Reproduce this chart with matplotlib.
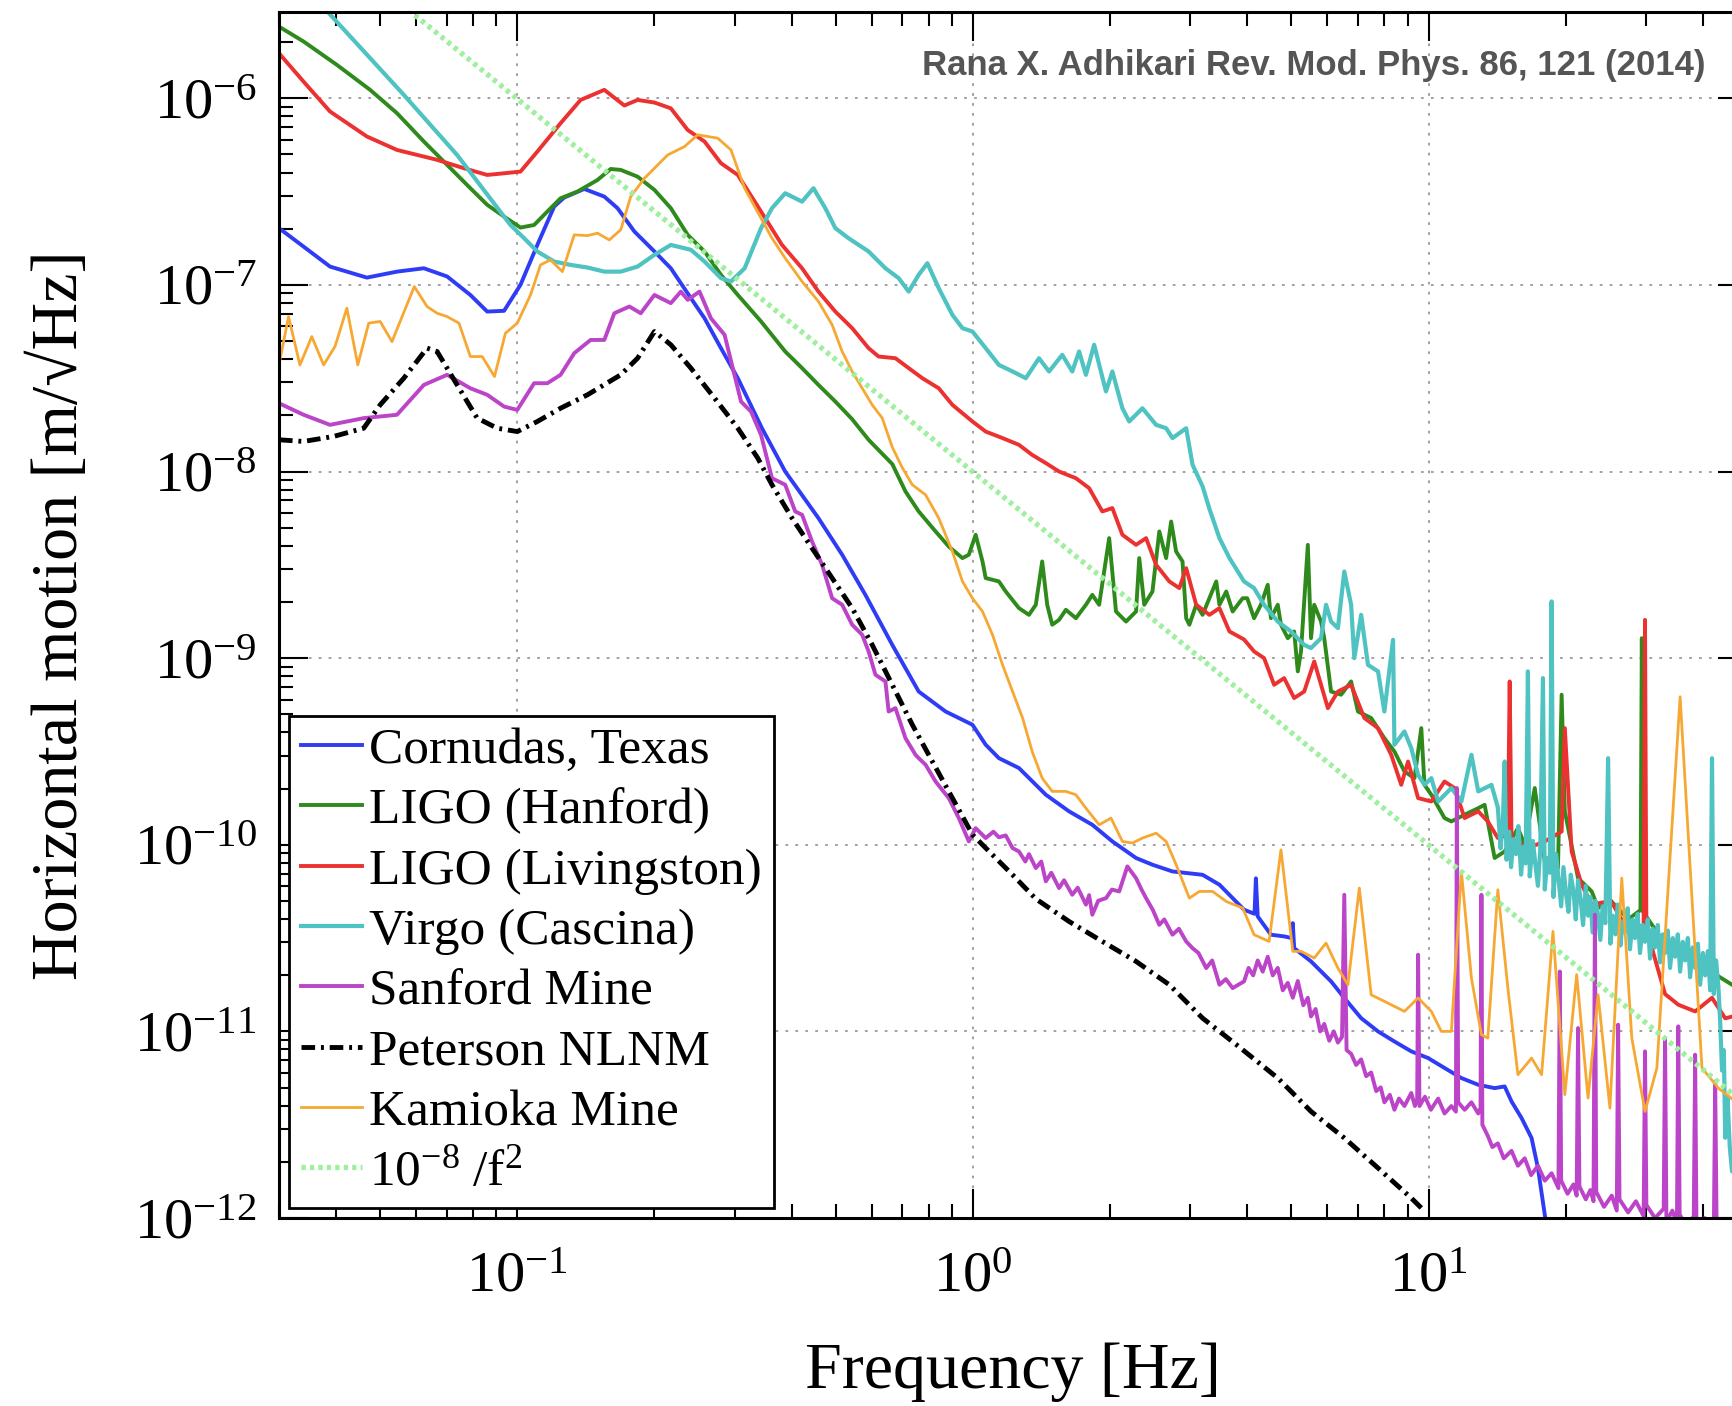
import numpy as np
import matplotlib
matplotlib.use('Agg')
import matplotlib.pyplot as plt
from matplotlib.ticker import LogLocator, NullFormatter

# every series: (log10 frequency [Hz], log10 horizontal motion [m/rtHz])
cornudas = [
    (-1.523, -6.696), (-1.469, -6.795), (-1.411, -6.902), (-1.330, -6.961), (-1.264, -6.929),
    (-1.205, -6.911), (-1.154, -6.955), (-1.103, -7.054), (-1.066, -7.143), (-1.029, -7.139),
    (-0.993, -7.000), (-0.956, -6.786), (-0.919, -6.580), (-0.897, -6.532), (-0.853, -6.486),
    (-0.809, -6.527), (-0.780, -6.589), (-0.743, -6.714), (-0.699, -6.821), (-0.663, -6.911),
    (-0.619, -7.071), (-0.589, -7.179), (-0.553, -7.339), (-0.516, -7.500), (-0.463, -7.768),
    (-0.412, -8.000), (-0.339, -8.250), (-0.287, -8.446), (-0.236, -8.661), (-0.177, -8.929),
    (-0.119, -9.179), (-0.060, -9.286), (-0.001, -9.357), (0.028, -9.464), (0.057, -9.536),
    (0.101, -9.589), (0.160, -9.732), (0.211, -9.821), (0.262, -9.893), (0.306, -9.982),
    (0.358, -10.071), (0.394, -10.107), (0.438, -10.143), (0.504, -10.161), (0.541, -10.214),
    (0.595, -10.348), (0.618, -10.370), (0.621, -10.180), (0.625, -10.384), (0.654, -10.482),
    (0.683, -10.491), (0.700, -10.500), (0.702, -10.420), (0.705, -10.554), (0.742, -10.625),
    (0.786, -10.732), (0.815, -10.821), (0.852, -10.929), (0.889, -11.000), (0.925, -11.054),
    (0.962, -11.107), (0.999, -11.143), (1.035, -11.196), (1.072, -11.250), (1.109, -11.286),
    (1.145, -11.304), (1.167, -11.295), (1.182, -11.375), (1.204, -11.464), (1.226, -11.571),
    (1.240, -11.732), (1.255, -11.982), (1.275, -12.300),
]

hanford = [
    (-1.523, -5.616), (-1.469, -5.696), (-1.396, -5.821), (-1.323, -5.955), (-1.264, -6.080),
    (-1.205, -6.232), (-1.154, -6.357), (-1.103, -6.482), (-1.066, -6.571), (-1.029, -6.634),
    (-0.993, -6.693), (-0.963, -6.679), (-0.934, -6.607), (-0.905, -6.536), (-0.868, -6.500),
    (-0.824, -6.438), (-0.795, -6.379), (-0.773, -6.384), (-0.736, -6.420), (-0.699, -6.491),
    (-0.663, -6.589), (-0.626, -6.732), (-0.589, -6.821), (-0.553, -6.946), (-0.516, -7.054),
    (-0.465, -7.196), (-0.412, -7.357), (-0.375, -7.446), (-0.339, -7.536), (-0.302, -7.625),
    (-0.265, -7.720), (-0.229, -7.830), (-0.177, -7.960), (-0.148, -8.107), (-0.119, -8.214),
    (-0.082, -8.321), (-0.053, -8.402), (-0.023, -8.464), (-0.009, -8.446), (0.006, -8.339),
    (0.021, -8.482), (0.028, -8.571), (0.057, -8.589), (0.072, -8.643), (0.101, -8.732),
    (0.123, -8.768), (0.138, -8.714), (0.152, -8.482), (0.163, -8.714), (0.174, -8.821),
    (0.189, -8.795), (0.204, -8.741), (0.226, -8.786), (0.248, -8.714), (0.262, -8.661),
    (0.277, -8.714), (0.299, -8.357), (0.314, -8.750), (0.336, -8.804), (0.358, -8.750),
    (0.365, -8.464), (0.376, -8.714), (0.394, -8.643), (0.409, -8.321), (0.424, -8.464),
    (0.435, -8.268), (0.446, -8.429), (0.460, -8.482), (0.468, -8.786), (0.475, -8.821),
    (0.490, -8.714), (0.504, -8.768), (0.534, -8.589), (0.541, -8.714), (0.556, -8.643),
    (0.570, -8.750), (0.592, -8.679), (0.602, -8.679), (0.617, -8.786), (0.632, -8.714),
    (0.647, -8.607), (0.654, -8.786), (0.669, -8.714), (0.676, -8.821), (0.691, -8.893),
    (0.705, -8.857), (0.713, -9.071), (0.720, -8.964), (0.735, -8.393), (0.742, -8.893),
    (0.749, -8.714), (0.764, -8.804), (0.771, -8.893), (0.786, -9.179), (0.808, -9.196),
    (0.830, -9.125), (0.845, -9.286), (0.874, -9.321), (0.903, -9.429), (0.925, -9.500),
    (0.947, -9.607), (0.969, -9.643), (0.984, -9.375), (0.991, -9.679), (1.006, -9.732),
    (1.035, -9.857), (1.050, -9.875), (1.079, -9.839), (1.109, -9.804), (1.123, -9.786),
    (1.145, -10.071), (1.167, -10.036), (1.196, -9.911), (1.211, -10.000), (1.233, -9.696),
    (1.255, -10.089), (1.284, -10.125), (1.292, -9.196), (1.299, -9.821), (1.328, -10.179),
    (1.358, -10.250), (1.372, -10.339), (1.400, -10.300), (1.438, -10.400), (1.465, -10.350),
    (1.468, -8.893), (1.471, -10.360), (1.510, -10.500), (1.548, -10.589), (1.600, -10.650),
    (1.666, -10.750), (1.700, -10.800),
]

livingston = [
    (-1.523, -5.759), (-1.469, -5.911), (-1.411, -6.071), (-1.330, -6.205), (-1.264, -6.277),
    (-1.176, -6.330), (-1.117, -6.375), (-1.066, -6.411), (-1.029, -6.402), (-0.993, -6.393),
    (-0.956, -6.286), (-0.905, -6.134), (-0.861, -6.009), (-0.809, -5.955), (-0.765, -6.039),
    (-0.736, -6.009), (-0.699, -6.023), (-0.663, -6.054), (-0.626, -6.170), (-0.589, -6.232),
    (-0.553, -6.348), (-0.516, -6.411), (-0.465, -6.607), (-0.419, -6.786), (-0.375, -6.911),
    (-0.339, -7.036), (-0.302, -7.143), (-0.265, -7.232), (-0.229, -7.339), (-0.207, -7.384),
    (-0.170, -7.393), (-0.141, -7.446), (-0.111, -7.500), (-0.075, -7.554), (-0.045, -7.643),
    (-0.001, -7.732), (0.028, -7.786), (0.065, -7.821), (0.101, -7.857), (0.130, -7.911),
    (0.160, -7.955), (0.189, -8.000), (0.226, -8.036), (0.255, -8.089), (0.284, -8.214),
    (0.306, -8.196), (0.328, -8.339), (0.358, -8.393), (0.380, -8.357), (0.402, -8.500),
    (0.431, -8.589), (0.453, -8.625), (0.468, -8.518), (0.490, -8.714), (0.519, -8.768),
    (0.541, -8.732), (0.563, -8.857), (0.595, -8.900), (0.617, -8.964), (0.639, -9.000),
    (0.661, -9.143), (0.683, -9.107), (0.705, -9.214), (0.727, -9.179), (0.749, -9.018),
    (0.779, -9.268), (0.801, -9.179), (0.830, -9.143), (0.859, -9.321), (0.889, -9.375),
    (0.918, -9.518), (0.940, -9.679), (0.955, -9.554), (0.977, -9.750), (1.006, -9.768),
    (1.035, -9.661), (1.057, -9.696), (1.079, -9.857), (1.109, -9.821), (1.130, -9.875),
    (1.152, -9.964), (1.174, -9.946), (1.178, -9.125), (1.182, -9.964), (1.218, -10.018),
    (1.255, -9.982), (1.292, -9.929), (1.299, -9.375), (1.314, -10.036), (1.336, -10.214),
    (1.358, -10.321), (1.400, -10.300), (1.438, -10.464), (1.472, -10.430), (1.475, -8.795),
    (1.478, -10.450), (1.519, -10.800), (1.548, -10.857), (1.585, -10.893), (1.622, -10.820),
    (1.651, -10.930), (1.700, -10.900),
]

cascina = [
    (-1.523, -5.230), (-1.418, -5.532), (-1.249, -5.982), (-1.132, -6.304), (-1.015, -6.679),
    (-0.985, -6.750), (-0.956, -6.821), (-0.919, -6.875), (-0.883, -6.893), (-0.846, -6.907),
    (-0.809, -6.929), (-0.773, -6.929), (-0.736, -6.902), (-0.699, -6.839), (-0.663, -6.786),
    (-0.619, -6.812), (-0.589, -6.875), (-0.553, -6.964), (-0.531, -6.982), (-0.501, -6.911),
    (-0.465, -6.696), (-0.441, -6.589), (-0.412, -6.509), (-0.375, -6.554), (-0.350, -6.482),
    (-0.324, -6.589), (-0.302, -6.696), (-0.273, -6.750), (-0.229, -6.821), (-0.192, -6.911),
    (-0.163, -6.964), (-0.141, -7.036), (-0.119, -6.946), (-0.100, -6.884), (-0.075, -7.018),
    (-0.045, -7.161), (-0.023, -7.232), (-0.001, -7.250), (0.028, -7.339), (0.057, -7.429),
    (0.087, -7.464), (0.116, -7.500), (0.145, -7.393), (0.167, -7.464), (0.196, -7.375),
    (0.218, -7.464), (0.233, -7.357), (0.248, -7.482), (0.266, -7.321), (0.292, -7.571),
    (0.306, -7.464), (0.328, -7.661), (0.343, -7.732), (0.372, -7.661), (0.402, -7.750),
    (0.424, -7.768), (0.438, -7.821), (0.468, -7.768), (0.482, -7.964), (0.504, -8.080),
    (0.519, -8.200), (0.541, -8.357), (0.563, -8.464), (0.595, -8.589), (0.617, -8.625),
    (0.639, -8.714), (0.669, -8.804), (0.698, -8.857), (0.727, -8.929), (0.742, -8.946),
    (0.764, -8.893), (0.775, -8.714), (0.786, -8.804), (0.801, -8.839), (0.815, -8.536),
    (0.830, -8.714), (0.837, -9.000), (0.852, -8.768), (0.867, -9.036), (0.889, -9.071),
    (0.903, -9.286), (0.922, -8.902), (0.925, -9.464), (0.947, -9.393), (0.962, -9.482),
    (0.977, -9.625), (0.991, -9.679), (1.006, -9.643), (1.021, -9.768), (1.050, -9.696),
    (1.072, -9.768), (1.094, -9.518), (1.109, -9.714), (1.138, -9.679), (1.152, -9.800),
    (1.158, -10.020), (1.163, -9.880), (1.167, -9.554), (1.171, -10.080), (1.177, -9.930),
    (1.181, -10.120), (1.186, -9.970), (1.192, -10.050), (1.197, -9.900), (1.203, -10.160),
    (1.208, -10.010), (1.213, -10.100), (1.218, -9.071), (1.222, -10.170), (1.229, -9.980),
    (1.235, -10.120), (1.240, -10.220), (1.245, -10.030), (1.251, -9.107), (1.255, -10.240),
    (1.261, -10.070), (1.266, -10.150), (1.270, -8.696), (1.274, -10.280), (1.280, -10.050),
    (1.286, -10.200), (1.291, -10.330), (1.296, -10.120), (1.302, -10.270), (1.307, -10.360),
    (1.312, -10.160), (1.318, -10.250), (1.323, -10.400), (1.328, -10.190), (1.334, -10.300),
    (1.339, -10.430), (1.345, -10.220), (1.350, -10.380), (1.355, -10.280), (1.360, -10.470),
    (1.366, -10.300), (1.371, -10.360), (1.377, -10.510), (1.382, -10.330), (1.388, -10.420),
    (1.394, -9.536), (1.399, -10.530), (1.404, -10.380), (1.410, -10.480), (1.415, -10.320),
    (1.421, -10.540), (1.426, -10.410), (1.431, -10.470), (1.437, -10.340), (1.442, -10.560),
    (1.448, -10.400), (1.453, -10.500), (1.459, -10.370), (1.464, -10.580), (1.470, -10.430),
    (1.475, -10.520), (1.481, -10.400), (1.486, -10.610), (1.492, -10.450), (1.497, -10.550),
    (1.503, -10.430), (1.508, -10.630), (1.514, -10.480), (1.519, -10.580), (1.525, -10.460),
    (1.530, -10.660), (1.536, -10.500), (1.541, -10.600), (1.547, -10.480), (1.552, -10.680),
    (1.558, -10.520), (1.563, -10.620), (1.569, -10.500), (1.574, -10.710), (1.580, -10.550),
    (1.585, -10.660), (1.591, -10.530), (1.596, -10.750), (1.602, -10.580), (1.607, -10.700),
    (1.613, -10.570), (1.618, -10.780), (1.622, -9.536), (1.626, -10.800), (1.631, -10.620),
    (1.636, -10.760), (1.640, -10.950), (1.644, -11.210), (1.648, -11.100), (1.651, -11.570),
    (1.656, -11.350), (1.661, -11.620), (1.666, -11.750), (1.700, -11.800),
]

sanford = [
    (-1.523, -7.634), (-1.469, -7.696), (-1.411, -7.750), (-1.337, -7.714), (-1.264, -7.696),
    (-1.205, -7.536), (-1.154, -7.482), (-1.103, -7.554), (-1.066, -7.589), (-1.029, -7.652),
    (-1.000, -7.670), (-0.963, -7.527), (-0.934, -7.527), (-0.905, -7.482), (-0.875, -7.366),
    (-0.839, -7.295), (-0.809, -7.295), (-0.787, -7.152), (-0.754, -7.116), (-0.729, -7.152),
    (-0.699, -7.054), (-0.663, -7.098), (-0.641, -7.036), (-0.626, -7.080), (-0.600, -7.036),
    (-0.575, -7.179), (-0.545, -7.268), (-0.509, -7.625), (-0.487, -7.679), (-0.465, -7.804),
    (-0.441, -8.036), (-0.412, -8.071), (-0.390, -8.214), (-0.375, -8.232), (-0.353, -8.375),
    (-0.331, -8.500), (-0.309, -8.679), (-0.287, -8.714), (-0.265, -8.821), (-0.243, -8.875),
    (-0.229, -8.964), (-0.214, -9.089), (-0.192, -9.125), (-0.185, -9.286), (-0.170, -9.268),
    (-0.148, -9.429), (-0.126, -9.518), (-0.119, -9.536), (-0.104, -9.571), (-0.082, -9.661),
    (-0.053, -9.750), (-0.031, -9.857), (-0.009, -9.982), (0.006, -9.911), (0.028, -9.964),
    (0.045, -9.930), (0.057, -9.960), (0.072, -9.950), (0.087, -10.018), (0.101, -10.036),
    (0.115, -10.090), (0.123, -10.050), (0.138, -10.125), (0.150, -10.090), (0.160, -10.196),
    (0.172, -10.150), (0.189, -10.232), (0.200, -10.190), (0.218, -10.268), (0.230, -10.230),
    (0.248, -10.321), (0.255, -10.270), (0.262, -10.375), (0.275, -10.300), (0.292, -10.286),
    (0.305, -10.240), (0.321, -10.250), (0.339, -10.116), (0.358, -10.179), (0.370, -10.240),
    (0.380, -10.286), (0.395, -10.350), (0.409, -10.429), (0.420, -10.400), (0.438, -10.482),
    (0.452, -10.450), (0.468, -10.518), (0.482, -10.554), (0.495, -10.580), (0.512, -10.661),
    (0.525, -10.620), (0.541, -10.750), (0.555, -10.720), (0.570, -10.768), (0.595, -10.732),
    (0.605, -10.660), (0.615, -10.700), (0.625, -10.620), (0.636, -10.680), (0.647, -10.600),
    (0.658, -10.700), (0.669, -10.660), (0.680, -10.780), (0.691, -10.740), (0.702, -10.820),
    (0.713, -10.730), (0.725, -10.860), (0.735, -10.820), (0.742, -10.920), (0.752, -10.880),
    (0.762, -11.000), (0.771, -10.960), (0.782, -11.050), (0.792, -11.000), (0.801, -11.060),
    (0.810, -11.030), (0.815, -10.268), (0.820, -11.100), (0.830, -11.120), (0.841, -11.180),
    (0.852, -11.150), (0.863, -11.240), (0.874, -11.220), (0.885, -11.320), (0.895, -11.300),
    (0.903, -11.380), (0.915, -11.340), (0.925, -11.420), (0.935, -11.360), (0.947, -11.400),
    (0.962, -11.330), (0.970, -11.400), (0.975, -11.360), (0.977, -10.589), (0.980, -11.400),
    (0.992, -11.350), (1.005, -11.420), (1.021, -11.360), (1.035, -11.440), (1.050, -11.400),
    (1.060, -11.430), (1.062, -9.696), (1.065, -11.380), (1.079, -11.420), (1.094, -11.380),
    (1.109, -11.440), (1.114, -11.410), (1.116, -10.268), (1.118, -11.500), (1.130, -11.560),
    (1.140, -11.620), (1.152, -11.600), (1.165, -11.680), (1.182, -11.640), (1.196, -11.720),
    (1.211, -11.680), (1.225, -11.770), (1.240, -11.720), (1.255, -11.800), (1.270, -11.760),
    (1.285, -11.840), (1.288, -10.679), (1.291, -11.800), (1.305, -11.870), (1.318, -11.820),
    (1.325, -11.880), (1.328, -10.982), (1.331, -11.830), (1.345, -11.900), (1.355, -11.850),
    (1.362, -11.910), (1.365, -10.375), (1.368, -11.860), (1.385, -11.940), (1.402, -11.880),
    (1.413, -11.960), (1.416, -10.964), (1.419, -11.900), (1.438, -11.970), (1.455, -11.910),
    (1.472, -11.990), (1.475, -11.107), (1.478, -11.930), (1.497, -12.000), (1.516, -11.950),
    (1.519, -11.036), (1.522, -12.020), (1.535, -11.960), (1.545, -12.030), (1.548, -10.973),
    (1.551, -11.980), (1.566, -12.050), (1.582, -11.990), (1.585, -11.125), (1.588, -12.060),
    (1.606, -12.000), (1.626, -12.070), (1.629, -11.268), (1.632, -12.010), (1.700, -12.100),
]

peterson = [
    (-1.523, -7.830), (-1.469, -7.839), (-1.403, -7.812), (-1.337, -7.768), (-1.301, -7.643),
    (-1.249, -7.500), (-1.198, -7.339), (-1.176, -7.357), (-1.132, -7.536), (-1.088, -7.714),
    (-1.044, -7.768), (-1.000, -7.786), (-0.956, -7.732), (-0.905, -7.661), (-0.846, -7.589),
    (-0.773, -7.482), (-0.736, -7.393), (-0.699, -7.250), (-0.663, -7.321), (-0.619, -7.446),
    (-0.567, -7.607), (-0.516, -7.768), (-0.472, -7.929), (-0.441, -8.071), (-0.397, -8.250),
    (-0.353, -8.411), (-0.309, -8.571), (-0.265, -8.732), (-0.221, -8.929), (-0.177, -9.143),
    (-0.133, -9.357), (-0.089, -9.554), (-0.045, -9.750), (-0.001, -9.946), (0.043, -10.054),
    (0.087, -10.161), (0.138, -10.290), (0.211, -10.411), (0.284, -10.518), (0.358, -10.625),
    (0.431, -10.750), (0.504, -10.929), (0.578, -11.071), (0.669, -11.250), (0.742, -11.429),
    (0.815, -11.571), (0.889, -11.732), (0.962, -11.893), (0.984, -11.946),
]

kamioka = [
    (-1.523, -7.429), (-1.502, -7.170), (-1.477, -7.429), (-1.451, -7.277), (-1.425, -7.429),
    (-1.400, -7.330), (-1.374, -7.125), (-1.350, -7.429), (-1.326, -7.205), (-1.301, -7.196),
    (-1.275, -7.304), (-1.226, -7.009), (-1.198, -7.116), (-1.176, -7.152), (-1.154, -7.170),
    (-1.128, -7.205), (-1.103, -7.384), (-1.077, -7.384), (-1.050, -7.491), (-1.026, -7.259),
    (-1.000, -7.205), (-0.971, -7.054), (-0.949, -6.893), (-0.927, -6.866), (-0.901, -6.929),
    (-0.875, -6.732), (-0.846, -6.736), (-0.824, -6.723), (-0.798, -6.759), (-0.773, -6.705),
    (-0.751, -6.527), (-0.721, -6.429), (-0.699, -6.375), (-0.670, -6.304), (-0.633, -6.259),
    (-0.604, -6.196), (-0.560, -6.214), (-0.531, -6.277), (-0.501, -6.482), (-0.465, -6.643),
    (-0.441, -6.750), (-0.412, -6.857), (-0.375, -6.982), (-0.339, -7.089), (-0.309, -7.214),
    (-0.287, -7.357), (-0.265, -7.464), (-0.243, -7.554), (-0.221, -7.643), (-0.199, -7.714),
    (-0.177, -7.870), (-0.155, -7.980), (-0.133, -8.071), (-0.104, -8.125), (-0.075, -8.250),
    (-0.045, -8.429), (-0.023, -8.589), (-0.001, -8.679), (0.021, -8.750), (0.043, -8.875),
    (0.065, -9.036), (0.087, -9.179), (0.109, -9.321), (0.130, -9.500), (0.152, -9.643),
    (0.174, -9.714), (0.204, -9.714), (0.226, -9.732), (0.248, -9.804), (0.277, -9.893),
    (0.303, -9.857), (0.328, -9.982), (0.350, -9.991), (0.372, -9.964), (0.402, -9.938),
    (0.424, -9.982), (0.446, -10.107), (0.475, -10.286), (0.497, -10.250), (0.526, -10.250),
    (0.556, -10.304), (0.592, -10.339), (0.617, -10.482), (0.650, -10.518), (0.676, -10.027),
    (0.702, -10.571), (0.720, -10.571), (0.749, -10.607), (0.775, -10.527), (0.801, -10.661),
    (0.823, -10.750), (0.848, -10.232), (0.874, -10.804), (0.903, -10.839), (0.947, -10.893),
    (0.977, -10.821), (1.006, -10.893), (1.028, -11.000), (1.050, -11.000), (1.072, -10.143),
    (1.094, -10.714), (1.116, -11.018), (1.130, -11.036), (1.152, -10.241), (1.174, -10.768),
    (1.196, -11.232), (1.226, -11.143), (1.248, -11.232), (1.273, -10.464), (1.299, -11.339),
    (1.325, -10.696), (1.350, -11.357), (1.372, -10.804), (1.398, -11.411), (1.424, -10.179),
    (1.446, -11.036), (1.475, -11.429), (1.501, -11.196), (1.552, -9.207), (1.600, -11.196),
    (1.636, -11.304), (1.673, -11.375), (1.700, -11.400),
]

# 1e-8 / f^2 reference line, two end points read at the frame edges
ref_freq = [0.03, 50.0]
ref_amp = [1.1e-5, 4.0e-12]

labels = ['Cornudas, Texas', 'LIGO (Hanford)', 'LIGO (Livingston)', 'Virgo (Cascina)',
          'Sanford Mine', 'Peterson NLNM', 'Kamioka Mine',
          r'$\mathdefault{10^{-8}\ /f^{2}}$']


def unlog(pairs):
    a = np.array(pairs)
    return 10 ** a[:, 0], 10 ** a[:, 1]


plt.rcParams['font.family'] = ['Liberation Serif', 'DejaVu Serif']
plt.rcParams['mathtext.fontset'] = 'stix'

fig = plt.figure(figsize=(17.32, 14.06), dpi=100)
ax = fig.add_axes([0.1611, 0.1337, 0.8476, 0.8578])

styles = [
    (cornudas, dict(color='#2f3cf5', lw=2.8)),
    (hanford, dict(color='#2f8a1c', lw=2.8)),
    (livingston, dict(color='#ec3131', lw=2.8)),
    (cascina, dict(color='#4fc2c2', lw=3.0)),
    (sanford, dict(color='#bb44c8', lw=2.8)),
    (peterson, dict(color='black', lw=3.5, dashes=(2.8, 1.2, 0.6, 1.2))),
    (kamioka, dict(color='#f7a833', lw=2.0)),
]
for (data, kw), lab in zip(styles, labels):
    f, x = unlog(data)
    ax.plot(f, x, label=lab, **kw)

ax.plot(ref_freq, ref_amp, color='#9eef9e', lw=3.8, dashes=(0.8, 0.8), label=labels[-1])

ax.set_xscale('log')
ax.set_yscale('log')
ax.set_xlim(0.03, 50)
ax.set_ylim(1e-12, 2.9e-6)

for axis in (ax.xaxis, ax.yaxis):
    axis.set_major_locator(LogLocator(base=10, numticks=20))
    axis.set_minor_locator(LogLocator(base=10, subs=np.arange(2, 10), numticks=20))
    axis.set_minor_formatter(NullFormatter())

ax.tick_params(which='both', direction='in', top=True, right=True, width=1.5, labelsize=42)
ax.tick_params(which='major', length=21)
ax.tick_params(axis='x', which='major', pad=24)
ax.tick_params(axis='y', which='major', pad=16)
ax.tick_params(which='minor', length=10)
for sp in ax.spines.values():
    sp.set_linewidth(2.2)

ax.set_axisbelow(True)
ax.grid(True, which='major', color='#999999', linestyle=(0, (1.5, 4)), linewidth=1.3)

ax.set_xlabel('Frequency [Hz]', fontsize=47.5, labelpad=28)
ax.set_ylabel('Horizontal motion [m/\u221aHz]', fontsize=47.5, labelpad=31)

leg = ax.legend(loc='lower left', fontsize=37, handlelength=1.2, handletextpad=0.14,
                labelspacing=0.26, borderpad=0.22, borderaxespad=0.2,
                fancybox=False, framealpha=1, edgecolor='black')
leg.get_frame().set_linewidth(2)

fig.text(1705 / 1732, 1 - 66 / 1406, 'Rana X. Adhikari Rev. Mod. Phys. 86, 121 (2014)',
         ha='right', va='center', fontsize=25, fontweight='bold', color='#555555',
         family=['Liberation Sans Narrow', 'Liberation Sans'])

fig.savefig('out.png', dpi=100)
